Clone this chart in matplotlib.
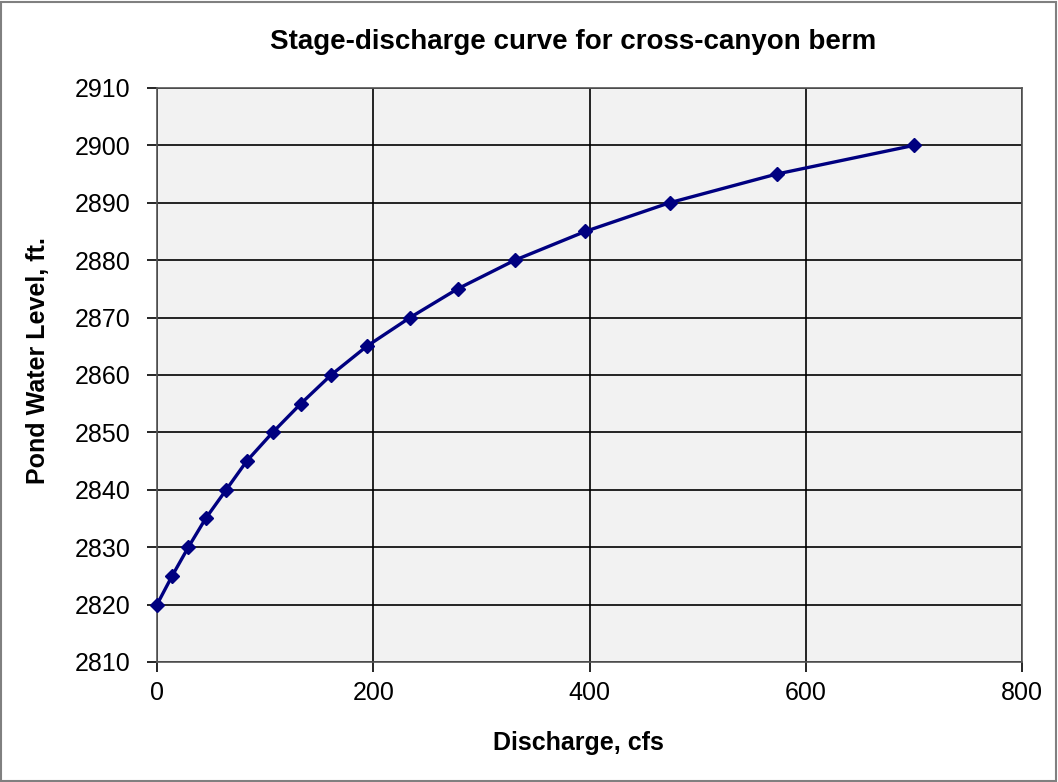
import matplotlib
matplotlib.use('Agg')
import matplotlib.pyplot as plt
from matplotlib.patches import Rectangle

# stage-discharge points
discharge = [0, 14, 29, 45, 64, 83, 107, 133, 161, 194, 234, 278, 331, 396, 474, 573, 700]
stage = [2820, 2825, 2830, 2835, 2840, 2845, 2850, 2855, 2860, 2865,
         2870, 2875, 2880, 2885, 2890, 2895, 2900]

xticks = [0, 200, 400, 600, 800]
yticks = [2810, 2820, 2830, 2840, 2850, 2860, 2870, 2880, 2890, 2900, 2910]

plt.rcParams['font.family'] = ['Liberation Sans', 'DejaVu Sans']

fig = plt.figure(figsize=(10.58, 7.82), dpi=100)
ax = fig.add_axes([0.1484, 0.1535, 0.8176, 0.734])
ax.set_facecolor('#f2f2f2')

ax.plot(discharge, stage, color='#000080', linewidth=2.4, marker='D',
        markersize=7, markerfacecolor='#000080', markeredgecolor='#000080',
        zorder=3, clip_on=False)

ax.set_xlim(0, 800)
ax.set_ylim(2810, 2910)
ax.set_xticks(xticks)
ax.set_yticks(yticks)
ax.tick_params(axis='both', labelsize=18, direction='out', length=7,
               width=1.2, color='black')
ax.tick_params(axis='y', pad=12)
ax.tick_params(axis='x', pad=7)
ax.grid(True, color='black', linewidth=1.2)
ax.set_axisbelow(True)
for s in ax.spines.values():
    s.set_color('#555555')
    s.set_linewidth(1.2)

# titles placed like the excel chart area
fig.text(0.5416, 0.946, 'Stage-discharge curve for cross-canyon berm', fontsize=20,
         fontweight='bold', ha='center', va='center')
fig.text(0.547, 0.050, 'Discharge, cfs', fontsize=18, fontweight='bold',
         ha='center', va='center')
fig.text(0.036, 0.539, 'Pond Water Level, ft.', fontsize=18, fontweight='bold',
         ha='center', va='center', rotation=90)

# outer chart frame
fig.patches.append(Rectangle((0.001, 0.001), 0.997, 0.997, transform=fig.transFigure,
                             fill=False, edgecolor='#808080', linewidth=1.5))

fig.savefig('out.png', dpi=100)
